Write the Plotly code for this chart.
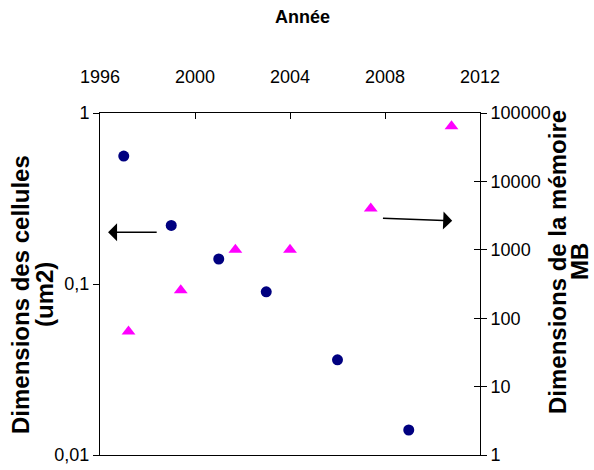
import math
import plotly.graph_objects as go

# ---- data ----
years_cells = [1997, 1999, 2001, 2003, 2006, 2009]
cell_size_um2 = [0.56, 0.22, 0.14, 0.09, 0.036, 0.014]

years_memory = [1997.2, 1999.4, 2001.7, 2004.0, 2007.4, 2010.8]
memory_mb = [64, 256, 1000, 1000, 4000, 64000]

x_tickvals = [1996, 2000, 2004, 2008, 2012]
left_tickvals = [0.01, 0.1, 1]
left_ticktext = ["0,01", "0,1", "1"]
right_tickvals = [1, 10, 100, 1000, 10000, 100000]
right_ticktext = ["1", "10", "100", "1000", "10000", "100000"]

# arrow endpoints (annotation anchors)
left_arrow_tip = (1996.34, 0.201)
left_arrow_tail = (1998.45, 0.201)
right_arrow_tip = (2010.83, 2650)
right_arrow_tail = (2007.85, 2900)

FONT = "Liberation Sans, Arial, sans-serif"
W, H = 594, 470
ML, MR, MT, MB = 100, 114, 113, 15
PW, PH = W - ML - MR, H - MT - MB


def px_x(px):
    return (px - ML) / PW


def px_y(py):
    return (H - MB - py) / PH


fig = go.Figure()
fig.add_trace(go.Scatter(
    x=years_cells, y=cell_size_um2, mode="markers", yaxis="y",
    marker=dict(symbol="circle", size=11, color="#000080"),
    showlegend=False, hoverinfo="x+y"))
fig.add_trace(go.Scatter(
    x=years_memory, y=memory_mb, mode="markers", yaxis="y2",
    marker=dict(symbol="triangle-up", size=12, color="#FF00FF"),
    showlegend=False, hoverinfo="x+y"))
# invisible helper trace so the inner-tick right axis is drawn
fig.add_trace(go.Scatter(
    x=years_memory, y=memory_mb, mode="none", yaxis="y3",
    showlegend=False, hoverinfo="skip"))

axis_common = dict(showgrid=False, zeroline=False, tickcolor="black",
                   linecolor="black", linewidth=1, automargin=False,
                   tickfont=dict(family=FONT, size=18, color="black"))

fig.update_layout(
    width=W, height=H,
    margin=dict(l=ML, r=MR, t=MT, b=MB, pad=0),
    paper_bgcolor="white", plot_bgcolor="white",
    font=dict(family=FONT, size=18, color="black"),
    xaxis=dict(side="top", range=[1996, 2012], tickvals=x_tickvals,
               ticks="inside", ticklen=6, showline=True, mirror=True,
               ticklabelstandoff=22, **axis_common),
    yaxis=dict(type="log", range=[-2, 0], tickvals=left_tickvals,
               ticktext=left_ticktext, ticks="outside", ticklen=6,
               showline=True, **axis_common),
    yaxis2=dict(type="log", range=[0, 5], overlaying="y", side="right",
                anchor="x", tickvals=right_tickvals, ticktext=right_ticktext,
                ticks="outside", ticklen=6, showline=True, **axis_common),
    yaxis3=dict(type="log", range=[0, 5], overlaying="y", side="right",
                anchor="x", tickvals=right_tickvals, ticks="inside",
                ticklen=6, showticklabels=False, showline=False,
                **axis_common),
)

title_font = dict(family=FONT, size=24, color="black")


def rot_label(text, cx, cy):
    return dict(text="<b>%s</b>" % text, xref="paper", yref="paper",
                x=px_x(cx), y=px_y(cy), textangle=-90, showarrow=False,
                font=title_font, xanchor="center", yanchor="middle")


annotations = [
    dict(text="<b>Année</b>", xref="paper", yref="paper",
         x=px_x(302), y=px_y(17), showarrow=False,
         font=dict(family=FONT, size=18, color="black"),
         xanchor="center", yanchor="middle"),
    rot_label("Dimensions des cellules", 20, 295),
    rot_label("(um2)", 44, 295),
    rot_label("Dimensions de la mémoire", 557, 262),
    rot_label("MB", 579, 262),
    dict(text="", xref="x", yref="y", axref="x", ayref="y",
         x=left_arrow_tip[0], y=math.log10(left_arrow_tip[1]),
         ax=left_arrow_tail[0], ay=math.log10(left_arrow_tail[1]),
         showarrow=True, arrowhead=1, arrowsize=2, arrowwidth=1.5,
         arrowcolor="black", standoff=0, startstandoff=0),
    dict(text="", xref="x", yref="y2", axref="x", ayref="y2",
         x=right_arrow_tip[0], y=math.log10(right_arrow_tip[1]),
         ax=right_arrow_tail[0], ay=math.log10(right_arrow_tail[1]),
         showarrow=True, arrowhead=1, arrowsize=2, arrowwidth=1.5,
         arrowcolor="black", standoff=0, startstandoff=0),
]
fig.update_layout(annotations=annotations)

fig.write_html("out.html",
               config={"displayModeBar": False},
               post_script="document.body.style.margin='0';"
                           "document.body.style.padding='0';")
